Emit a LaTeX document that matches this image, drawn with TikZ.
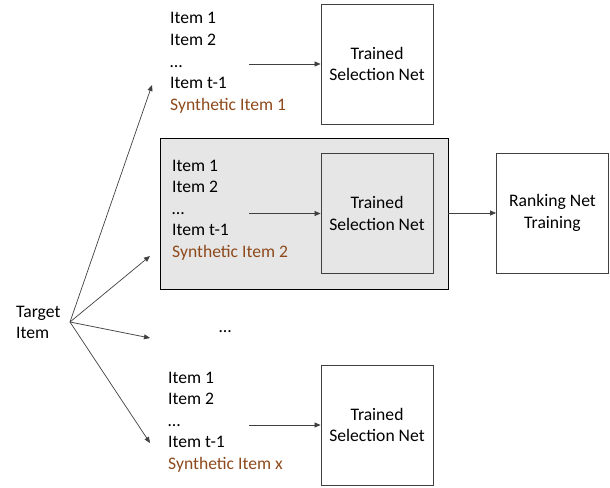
\documentclass[tikz,border=0pt]{standalone}
\usepackage{fontspec}
\setmainfont{Carlito}
\usetikzlibrary{arrows.meta}
\definecolor{synth}{HTML}{8E4A1C}
\definecolor{boxline}{HTML}{404040}
\definecolor{panel}{HTML}{E6E6E6}
\tikzset{
  txt/.style={anchor=base west, inner sep=0pt, font=\fontsize{17.6}{21.5}\selectfont},
  syn/.style={txt, text=synth},
  netbox/.style={draw=boxline, line width=0.9pt, minimum width=112pt, minimum height=120pt, align=center, inner sep=0pt, font=\fontsize{17.6}{21.5}\selectfont},
  arr/.style={draw=black!75, line width=0.7pt, -{Triangle[length=6pt,width=5pt]}},
}
\begin{document}
\begin{tikzpicture}[x=1pt,y=-1pt]
\useasboundingbox (0,0) rectangle (610,487);
% gray panel
\node[draw=black, line width=0.9pt, fill=panel, minimum width=288pt, minimum height=151pt, inner sep=0pt] (panel) at (304,213.5) {};
% boxes
\node[netbox] (net1) at (377,64) {Trained\\Selection Net};
\node[netbox, fill=panel] (net2) at (377,213.5) {Trained\\Selection Net};
\node[netbox] (net3) at (377,425) {Trained\\Selection Net};
\node[netbox] (rank) at (552.5,213) {Ranking Net\\Training};
% top block
\node[txt] (a1) at (170,24) {Item 1};
\node[txt] (a2) at (170,45.5) {Item 2};
\node[txt] (a3) at (170,67) {…};
\node[txt] (a4) at (170,88.5) {Item t-1};
\node[syn] (a5) at (170,110) {Synthetic Item 1};
% middle block
\node[txt] (b1) at (172,171) {Item 1};
\node[txt] (b2) at (172,192.5) {Item 2};
\node[txt] (b3) at (172,214) {…};
\node[txt] (b4) at (172,235.5) {Item t-1};
\node[syn] (b5) at (172,257) {Synthetic Item 2};
% bottom block
\node[txt] (c1) at (168,383) {Item 1};
\node[txt] (c2) at (168,404.5) {Item 2};
\node[txt] (c3) at (168,426) {…};
\node[txt] (c4) at (168,447.5) {Item t-1};
\node[syn] (c5) at (168,469) {Synthetic Item x};
% middle dots
\node[txt] (dots) at (219,332) {…};
% target
\node[txt, align=left, anchor=north west] (tgt) at (16,306) {Target\\Item};
\coordinate (src) at (70,322);
\coordinate (e1) at (152,85);
\coordinate (e2) at (150,256);
\coordinate (e3) at (150,338);
\coordinate (e4) at (150,443);
\draw[arr] (src) -- (e1);
\draw[arr] (src) -- (e2);
\draw[arr] (src) -- (e3);
\draw[arr] (src) -- (e4);
% horizontal
\coordinate (h1) at (249,64);
\coordinate (h2) at (249,213.5);
\coordinate (h3) at (249,425);
\draw[arr] (h1) -- (net1.west);
\draw[arr] (h2) -- (net2.west);
\draw[arr] (h3) -- (net3.west);
\draw[arr] (panel.east |- rank.west) -- (rank.west);
\end{tikzpicture}
\end{document}
